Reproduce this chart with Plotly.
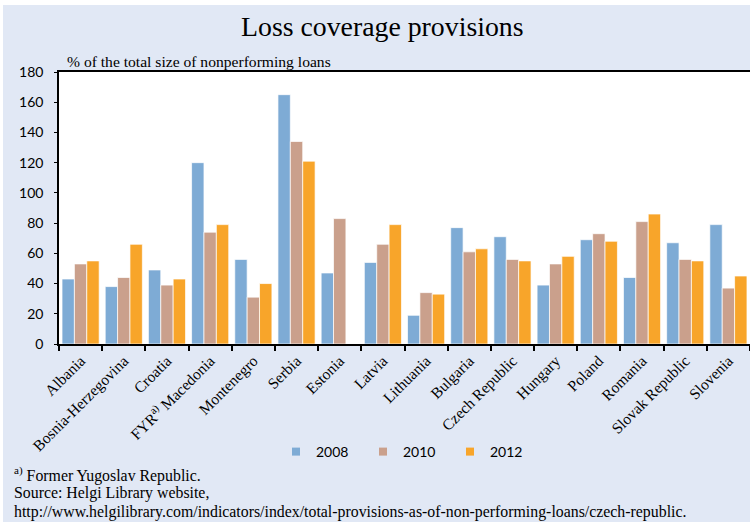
import plotly.graph_objects as go

countries = ["Albania", "Bosnia-Herzegovina", "Croatia", "FYR<sup>a)</sup> Macedonia", "Montenegro",
             "Serbia", "Estonia", "Latvia", "Lithuania", "Bulgaria", "Czech Republic", "Hungary",
             "Poland", "Romania", "Slovak Republic", "Slovenia"]
v2008 = [43, 38, 49, 120, 56, 165, 47, 54, 19, 77, 71, 39, 69, 44, 67, 79]
v2010 = [53, 44, 39, 74, 31, 134, 83, 66, 34, 61, 56, 53, 73, 81, 56, 37]
v2012 = [55, 66, 43, 79, 40, 121, None, 79, 33, 63, 55, 58, 68, 86, 55, 45]
years = ["2008", "2010", "2012"]
colors = ["#7EABD5", "#CAA08C", "#F8A52A"]
yticks = [0, 20, 40, 60, 80, 100, 120, 140, 160, 180]

W, H = 750, 527
L, R, T, B = 59, 750, 72, 344
pw, ph = R - L, B - T

def px(x):
    return (x - L) / pw

def py(y):
    return (B - y) / ph

fig = go.Figure()
for name, vals, col in zip(years, [v2008, v2010, v2012], colors):
    fig.add_trace(go.Bar(x=countries, y=vals, name=name, marker_color=col,
                         marker_line=dict(color="rgba(255,255,255,0.7)", width=1),
                         showlegend=False))
    fig.add_trace(go.Scatter(x=[None], y=[None], mode="markers", name=name,
                             marker=dict(symbol="square", size=8, color=col)))

serif = "Liberation Serif"
sans = "Lato"

fig.update_layout(
    width=W, height=H,
    margin=dict(l=L, r=W - R, t=T, b=H - B),
    paper_bgcolor="white",
    plot_bgcolor="white",
    barmode="group",
    bargap=0.14,
    bargroupgap=0,
    showlegend=True,
    legend=dict(orientation="h", x=px(276), xanchor="left", y=py(452), yanchor="middle",
                font=dict(family=sans, size=14, color="black"), bgcolor="rgba(0,0,0,0)",
                itemwidth=30, entrywidth=42, entrywidthmode="pixels"),
    xaxis=dict(type="category", tickson="boundaries", ticks="outside", ticklen=5,
               tickcolor="black", tickwidth=1.5, showline=True, linecolor="black", linewidth=1.5,
               mirror=True, tickangle=-45, showgrid=False,
               tickfont=dict(family=serif, size=15.5, color="black")),
    yaxis=dict(range=[0, 180], tickvals=yticks, showgrid=False, showline=True,
               linecolor="black", linewidth=1.5, ticks="outside", ticklen=3, tickcolor="black",
               tickfont=dict(family=sans, size=14, color="black"), ticklabelstandoff=8,
               zeroline=False),
)

# blue panel behind everything
fig.add_shape(type="rect", xref="paper", yref="paper", x0=px(3), x1=px(752), y0=py(522), y1=py(5),
              fillcolor="#E1E8F5", line_width=0, layer="below")
# white plot area over the panel
fig.add_shape(type="rect", xref="paper", yref="paper", x0=0, x1=1, y0=0, y1=1,
              fillcolor="white", line_width=0, layer="below")

fig.add_annotation(text="Loss coverage provisions", xref="paper", yref="paper",
                   x=px(382), y=py(27), xanchor="center", yanchor="middle", showarrow=False,
                   font=dict(family=serif, size=27.8, color="black"))
fig.add_annotation(text="% of the total size of nonperforming loans", xref="paper", yref="paper",
                   x=px(65), y=py(62), xanchor="left", yanchor="middle", showarrow=False,
                   font=dict(family=serif, size=15.6, color="black"))
notes = ["<sup>a)</sup> Former Yugoslav Republic.",
         "Source: Helgi Library website,",
         "http://www.helgilibrary.com/indicators/index/total-provisions-as-of-non-performing-loans/czech-republic."]
for txt, yc in zip(notes, [474, 493, 512]):
    fig.add_annotation(text=txt, xref="paper", yref="paper", x=px(12), y=py(yc),
                       xanchor="left", yanchor="middle", showarrow=False,
                       font=dict(family=serif, size=15.85, color="black"))

fig.write_html("out.html", post_script="document.body.style.margin='0px';",
               config={"displayModeBar": False})
